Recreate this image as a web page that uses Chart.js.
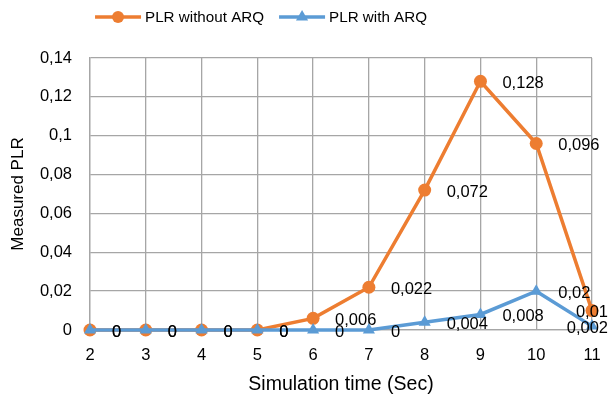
<!DOCTYPE html>
<html>
<head>
<meta charset="utf-8">
<script src="https://cdn.jsdelivr.net/npm/chart.js@4.4.0/dist/chart.umd.min.js"></script>
<style>
  html, body { margin: 0; padding: 0; background: #fff; }
  #caixa { width: 610px; height: 398px; }
</style>
</head>
<body>
<div id="caixa"><canvas id="grafico"></canvas></div>
<script>
// dados
const tempos = ['2', '3', '4', '5', '6', '7', '8', '9', '10', '11'];
const semARQ = [0, 0, 0, 0, 0.006, 0.022, 0.072, 0.128, 0.096, 0.01];
const comARQ = [0, 0, 0, 0, 0, 0, 0.004, 0.008, 0.02, 0.002];
const nomesSeries = ['PLR without ARQ', 'PLR with ARQ'];

const fonte = '"Liberation Sans", Arial, sans-serif';
const laranja = '#ED7D31';
const azul = '#5B9BD5';
const cinza = '#A6A6A6';

function formatar(v) {
    return String(Math.round(v * 1000) / 1000).replace('.', ',');
}

// marcador (círculo ou triângulo) usado na legenda
function desenharMarcador(g, estilo, x, y, r) {
    g.beginPath();
    if (estilo === 'circle') {
        g.arc(x, y, r, 0, Math.PI * 2);
    } else {
        g.moveTo(x, y - r);
        g.lineTo(x + r * 0.87, y + r * 0.5);
        g.lineTo(x - r * 0.87, y + r * 0.5);
        g.closePath();
    }
    g.fill();
}

// legenda desenhada à mão: linha + marcador + texto
const legenda = {
    id: 'legenda',
    afterDraw(chart) {
        const ctx = chart.ctx;
        const dss = chart.data.datasets;
        ctx.save();
        ctx.font = '15.2px ' + fonte;
        const larguras = dss.map(ds => ctx.measureText(ds.label).width);
        const linha = 46, vao = 4, entre = 15;
        let total = 0;
        larguras.forEach((w, i) => { total += linha + vao + w + (i > 0 ? entre : 0); });
        let x = 261 - total / 2;
        const y = 17;
        dss.forEach((ds, i) => {
            ctx.strokeStyle = ds.borderColor;
            ctx.fillStyle = ds.borderColor;
            ctx.lineWidth = 3.5;
            ctx.beginPath();
            ctx.moveTo(x, y);
            ctx.lineTo(x + linha, y);
            ctx.stroke();
            desenharMarcador(ctx, ds.pointStyle, x + linha / 2, y, ds.pointStyle === 'circle' ? 6 : 7);
            ctx.fillStyle = '#000';
            ctx.textBaseline = 'middle';
            ctx.fillText(ds.label, x + linha + vao, y + 1);
            x += linha + vao + larguras[i] + entre;
        });
        ctx.restore();
    }
};

// rótulos de dados à direita de cada ponto
const rotulos = {
    id: 'rotulos',
    afterDatasetsDraw(chart) {
        const ctx = chart.ctx;
        ctx.save();
        ctx.font = '16.5px ' + fonte;
        ctx.fillStyle = '#000';
        ctx.textBaseline = 'middle';
        ctx.textAlign = 'left';
        chart.data.datasets.forEach((ds, i) => {
            const meta = chart.getDatasetMeta(i);
            meta.data.forEach((pt, j) => {
                const txt = formatar(ds.data[j]);
                const w = ctx.measureText(txt).width;
                let x = pt.x + 22;
                if (x + w > chart.width - 2) x = chart.width - 2 - w;
                ctx.fillText(txt, x, pt.y + 2);
            });
        });
        ctx.restore();
    }
};

new Chart(document.getElementById('grafico'), {
    type: 'line',
    data: {
        labels: tempos,
        datasets: [{
            label: nomesSeries[0],
            data: semARQ,
            borderColor: laranja,
            backgroundColor: laranja,
            borderWidth: 3.5,
            pointStyle: 'circle',
            pointRadius: 6.5,
            pointBorderWidth: 0,
            tension: 0,
            clip: false,
            order: 1
        }, {
            label: nomesSeries[1],
            data: comARQ,
            borderColor: azul,
            backgroundColor: azul,
            borderWidth: 3.5,
            pointStyle: 'triangle',
            pointRadius: 7,
            pointBorderWidth: 0,
            tension: 0,
            clip: false,
            order: 0
        }]
    },
    options: {
        responsive: true,
        maintainAspectRatio: false,
        animation: false,
        layout: { padding: { top: 58, right: 18, left: 0, bottom: 0 } },
        plugins: {
            tooltip: { enabled: false },
            legend: { display: false }
        },
        scales: {
            x: {
                offset: false,
                afterFit: (escala) => {
                    escala.height = 68;
                    escala.paddingRight = 10;
                },
                grid: { color: cinza, lineWidth: 1.3, drawTicks: false },
                border: { color: cinza, width: 1.3 },
                ticks: { color: '#000', padding: 16, font: { family: fonte, size: 16.5 } },
                title: {
                    display: true,
                    text: 'Simulation time (Sec)',
                    color: '#000',
                    padding: { top: 0, bottom: 2 },
                    font: { family: fonte, size: 19.5 }
                }
            },
            y: {
                min: 0,
                max: 0.14,
                afterFit: (escala) => { escala.width = 90; },
                grid: { color: cinza, lineWidth: 1.3, drawTicks: false },
                border: { color: cinza, width: 1.3 },
                ticks: {
                    stepSize: 0.02,
                    color: '#000',
                    padding: 18,
                    font: { family: fonte, size: 16.5 },
                    callback: (v) => formatar(v)
                },
                title: {
                    display: true,
                    text: 'Measured PLR',
                    color: '#000',
                    padding: { top: 8, bottom: 0 },
                    font: { family: fonte, size: 17 }
                }
            }
        }
    },
    plugins: [rotulos, legenda]
});
</script>
</body>
</html>
